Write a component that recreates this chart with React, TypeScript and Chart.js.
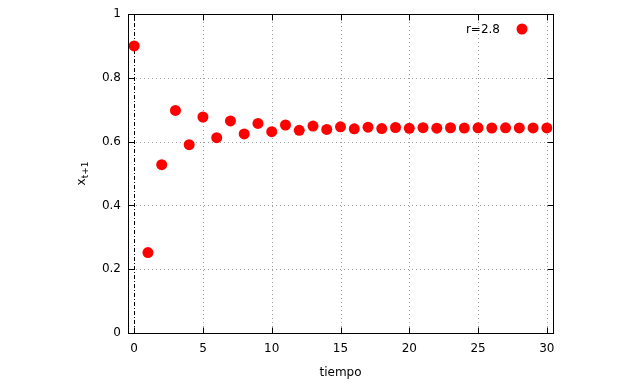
import React, { useEffect, useRef } from "react";
import { Chart, registerables } from "chart.js";

Chart.register(...registerables);

const tiempo: number[] = Array.from({ length: 31 }, (_, i) => i);
const xValues: number[] = [
  0.9, 0.252, 0.5278, 0.6978, 0.5905, 0.6771, 0.6122, 0.6648, 0.624, 0.6569,
  0.6311, 0.652, 0.6353, 0.6486, 0.6381, 0.6464, 0.64, 0.6451, 0.641, 0.6442,
  0.6417, 0.6437, 0.6421, 0.6434, 0.6424, 0.6432, 0.6426, 0.6431, 0.6427, 0.643,
  0.6428,
];
const xTicks: number[] = [0, 5, 10, 15, 20, 25, 30];
const yTicks: number[] = [0, 0.2, 0.4, 0.6, 0.8, 1];
const legendLabel = "r=2.8";
const xTitle = "tiempo";

const FONT = "'DejaVu Sans', sans-serif";

const decor = {
  id: "decor",
  beforeDatasetsDraw(chart: any) {
    const { ctx, chartArea: a, scales } = chart;
    const xs = scales.x, ys = scales.y;
    ctx.save();
    ctx.strokeStyle = "#a0a0a0";
    ctx.lineWidth = 1;
    ctx.setLineDash([1, 3]);
    xTicks.forEach((t) => {
      if (t === 0) return;
      const px = Math.round(xs.getPixelForValue(t)) + 0.5;
      ctx.beginPath();
      ctx.moveTo(px, a.top);
      ctx.lineTo(px, a.bottom);
      ctx.stroke();
    });
    yTicks.forEach((t) => {
      const py = Math.round(ys.getPixelForValue(t)) + 0.5;
      ctx.beginPath();
      ctx.moveTo(a.left, py);
      ctx.lineTo(a.right, py);
      ctx.stroke();
    });
    // zero axis, dash-dot black
    ctx.strokeStyle = "#000";
    ctx.setLineDash([4, 2, 1, 2]);
    const z = Math.round(xs.getPixelForValue(0)) + 0.5;
    ctx.beginPath();
    ctx.moveTo(z, a.top);
    ctx.lineTo(z, a.bottom);
    ctx.stroke();
    ctx.restore();
  },
  afterDraw(chart: any) {
    const { ctx, chartArea: a, scales } = chart;
    const xs = scales.x, ys = scales.y;
    ctx.save();
    ctx.setLineDash([]);
    ctx.strokeStyle = "#000";
    ctx.lineWidth = 1;
    const L = Math.round(a.left) + 0.5, R = Math.round(a.right) + 0.5;
    const T = Math.round(a.top) + 0.5, B = Math.round(a.bottom) + 0.5;
    ctx.strokeRect(L, T, R - L, B - T);
    const tl = 6;
    ctx.beginPath();
    xTicks.forEach((t) => {
      const px = Math.round(xs.getPixelForValue(t)) + 0.5;
      ctx.moveTo(px, B); ctx.lineTo(px, B - tl);
      ctx.moveTo(px, T); ctx.lineTo(px, T + tl);
    });
    yTicks.forEach((t) => {
      const py = Math.round(ys.getPixelForValue(t)) + 0.5;
      ctx.moveTo(L, py); ctx.lineTo(L + tl, py);
      ctx.moveTo(R, py); ctx.lineTo(R - tl, py);
    });
    ctx.stroke();

    ctx.fillStyle = "#000";
    ctx.font = `12px ${FONT}`;
    ctx.textBaseline = "middle";
    ctx.textAlign = "center";
    xTicks.forEach((t) => {
      ctx.fillText(String(t), xs.getPixelForValue(t), 349);
    });
    ctx.textAlign = "right";
    yTicks.forEach((t) => {
      ctx.fillText(String(t), 121, ys.getPixelForValue(t));
    });
    ctx.textAlign = "center";
    ctx.fillText(xTitle, (a.left + a.right) / 2, 373);

    // y title x_{t+1}
    ctx.save();
    ctx.translate(82, (a.top + a.bottom) / 2);
    ctx.rotate(-Math.PI / 2);
    ctx.textAlign = "left";
    ctx.font = `12px ${FONT}`;
    const w1 = ctx.measureText("x").width;
    ctx.font = `9px ${FONT}`;
    const w2 = ctx.measureText("t+1").width;
    const start = -(w1 + w2) / 2;
    ctx.font = `12px ${FONT}`;
    ctx.fillText("x", start, 0);
    ctx.font = `9px ${FONT}`;
    ctx.fillText("t+1", start + w1, 4);
    ctx.restore();

    // legend
    ctx.font = `12px ${FONT}`;
    ctx.textAlign = "right";
    ctx.fillText(legendLabel, 500, 30);
    ctx.fillStyle = "#ff0000";
    ctx.beginPath();
    ctx.arc(522, 29, 5.5, 0, Math.PI * 2);
    ctx.fill();
    ctx.restore();
  },
};

export default function App() {
  const ref = useRef<HTMLCanvasElement>(null);
  useEffect(() => {
    document.body.style.margin = "0";
    const chart = new Chart(ref.current as HTMLCanvasElement, {
      type: "scatter",
      data: {
        datasets: [
          {
            label: legendLabel,
            data: tiempo.map((t, i) => ({ x: t, y: xValues[i] })),
            backgroundColor: "#ff0000",
            borderColor: "#ff0000",
            pointRadius: 5.5,
            pointBorderWidth: 0,
          },
        ],
      },
      options: {
        animation: false,
        responsive: false,
        layout: { padding: { top: 14, right: 87, left: 0, bottom: 0 } },
        plugins: { legend: { display: false }, tooltip: { enabled: false } },
        scales: {
          x: {
            type: "linear",
            min: -0.45,
            max: 30.45,
            grid: { display: false },
            border: { display: false },
            ticks: { display: false },
            afterFit: (s: any) => { s.height = 51; },
          },
          y: {
            type: "linear",
            min: 0,
            max: 1,
            grid: { display: false },
            border: { display: false },
            ticks: { display: false },
            afterFit: (s: any) => { s.width = 128; },
          },
        },
      },
      plugins: [decor],
    });
    return () => chart.destroy();
  }, []);
  return (
    <div style={{ position: "absolute", left: 0, top: 0, width: 640, height: 384, background: "#fff" }}>
      <canvas ref={ref} width={640} height={384} />
    </div>
  );
}
